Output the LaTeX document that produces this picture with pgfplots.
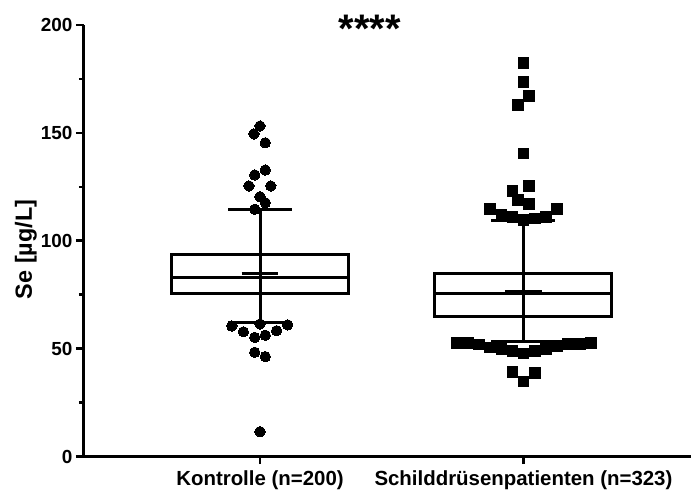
\documentclass[border=0pt]{standalone}
\usepackage{fontspec}
\setmainfont{Liberation Sans}
\usepackage{pgfplots}
\pgfplotsset{compat=1.18}
\usepgfplotslibrary{statistics}
\begin{document}
\begin{tikzpicture}
\begin{axis}[
  at={(83.5bp,34.5bp)}, anchor=south west,
  scale only axis, width=607.5bp, height=431.5bp,
  xmin=0.33, xmax=2.636, ymin=0, ymax=200,
  axis lines=left,
  axis line style={-, line width=2.7bp, black},
  clip=false,
  xtick={1,2},
  xticklabels={Kontrolle (n=200), Schilddrüsenpatienten (n=323)},
  ytick={0,50,100,150,200},
  minor ytick={25,75,125,175},
  tick align=outside,
  major tick length=7.5bp,
  minor tick length=4.5bp,
  every tick/.style={line width=2.5bp, black},
  minor tick style={line width=2.5bp, black},
  major tick style={line width=2.5bp, black},
  /pgf/number format/assume math mode=true,
  yticklabel style={font=\bfseries\fontsize{19}{19}\selectfont},
  xticklabel style={font=\bfseries\fontsize{20.5}{20.5}\selectfont, yshift=-3bp},
  ylabel={Se [µg/L]},
  ylabel style={font=\bfseries\fontsize{23.5}{23.5}\selectfont, at={(axis description cs:-0.095,0.48)}, anchor=center, rotate=0},
  boxplot/draw direction=y,
]
\addplot[draw=black, line width=3bp, solid, boxplot prepared={draw position=1,
  lower whisker=62.0, lower quartile=75.6, median=82.9, upper quartile=93.4, upper whisker=114.6,
  box extend=0.672, whisker extend=0.243}] coordinates {};
\addplot[draw=black, line width=3bp, solid, boxplot prepared={draw position=2,
  lower whisker=53.2, lower quartile=64.8, median=75.6, upper quartile=84.9, upper whisker=109.2,
  box extend=0.672, whisker extend=0.243}] coordinates {};
% whisker line through the box
\addplot[black, line width=3bp, no marks] coordinates {(1,75.6) (1,93.4)};
\addplot[black, line width=3bp, no marks] coordinates {(2,64.8) (2,84.9)};
% means
\addplot[black, line width=3bp, no marks] coordinates {(0.93,84.9) (1.07,84.9)};
\addplot[black, line width=3bp, no marks] coordinates {(1.93,76.4) (2.07,76.4)};
% Kontrolle outliers
\addplot[only marks, mark=*, mark size=5.2bp, mark options={fill=black, draw=black, line width=0pt}] coordinates {
(1.000,153.2) (0.977,149.5) (1.020,145.4) (1.020,132.8) (0.980,130.5)
(0.958,125.4) (1.041,125.4) (1.000,120.4) (1.020,117.6) (0.980,114.6)
(1.000,61.4) (0.893,60.5) (1.105,61.0) (0.937,57.8) (1.063,58.3)
(0.980,55.2) (1.020,56.2) (0.980,48.3) (1.020,46.3) (1.000,11.5)
};
% Schilddruesenpatienten outliers
\addplot[only marks, mark=square*, mark size=5.3bp, mark options={fill=black, draw=black, line width=0pt}] coordinates {
(2.000,182.5) (2.000,173.6) (2.022,167.1) (1.980,162.8) (2.000,140.5)
(2.022,125.4) (1.959,123.1) (1.980,118.9) (2.022,117.0) (1.873,114.6)
(2.128,114.6) (1.917,111.9) (1.959,110.9) (2.000,109.6) (2.044,110.4)
(2.085,110.9)
(1.746,52.5) (1.790,52.5) (1.832,52.0) (1.873,50.6) (1.917,49.8)
(1.959,48.9) (2.000,47.8) (2.044,48.9) (2.085,49.8) (2.128,51.2)
(2.170,52.1) (2.214,52.1) (2.256,52.5) (1.959,39.3) (2.044,38.6)
(2.000,34.7)
};
\node[anchor=base, font=\bfseries\fontsize{40}{40}\selectfont, inner sep=0pt] at (axis cs:1.417,191.7) {****};
\end{axis}
\pgfresetboundingbox
\path[use as bounding box] (0bp,0bp) rectangle (691bp,491bp);
\end{tikzpicture}
\end{document}
